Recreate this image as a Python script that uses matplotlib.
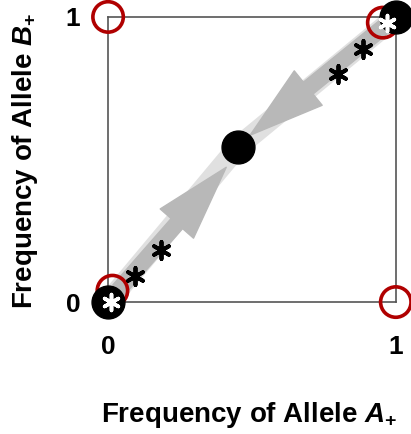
import matplotlib.pyplot as plt
from matplotlib.patches import FancyArrowPatch

plt.rcParams['font.family'] = ['Liberation Sans', 'DejaVu Sans']
plt.rcParams['font.weight'] = 'bold'
plt.rcParams['mathtext.fontset'] = 'custom'
plt.rcParams['mathtext.it'] = 'Liberation Sans:italic:bold'
plt.rcParams['mathtext.rm'] = 'Liberation Sans:bold'
plt.rcParams['mathtext.bf'] = 'Liberation Sans:bold'

# corner states (unstable, red open circles)
red_x = [0.015, 0.0, 0.955, 1.0]
red_y = [0.04, 1.0, 0.98, 0.0]
# stable states (black dots)
stable_x = [0.0, 0.451, 1.0]
stable_y = [0.0, 0.544, 1.0]
# trajectory path through the interior point
path_x = [0.0, 0.451, 1.0]
path_y = [0.0, 0.544, 1.0]
# simulation points (asterisks)
star_x = [0.094, 0.184, 0.80, 0.885]
star_y = [0.091, 0.182, 0.80, 0.888]
white_star_x = [0.01, 0.97]
white_star_y = [0.0, 0.98]

fig = plt.figure(figsize=(4.11, 4.34), dpi=100)
ax = fig.add_axes([0.263, 0.304, 0.7, 0.657])
ax.set_xlim(0, 1)
ax.set_ylim(0, 1)
for s in ax.spines.values():
    s.set_color('#555555')
    s.set_linewidth(1.2)

# light grey band
ax.plot(path_x, path_y, color='#e0e0e0', lw=15, solid_capstyle='round', zorder=1)

# arrows toward the interior point
style = 'simple,head_length=4.9,head_width=2.9,tail_width=1.0'
a1 = FancyArrowPatch((0.03, 0.035), (0.417, 0.48), arrowstyle=style,
                     mutation_scale=11, color='#b8b8b8', zorder=2)
a2 = FancyArrowPatch((0.97, 0.975), (0.486, 0.579), arrowstyle=style,
                     mutation_scale=11, color='#b8b8b8', zorder=2)
ax.add_patch(a1)
ax.add_patch(a2)

ax.scatter(red_x, red_y, s=480, facecolors='none', edgecolors='#b00000', linewidths=2.6, zorder=3, clip_on=False)
ax.scatter(stable_x, stable_y, s=560, color='black', zorder=4, clip_on=False)
ax.scatter(star_x, star_y, marker=(6, 2, 0), s=150, color='black', linewidths=2.8, zorder=5, clip_on=False)
ax.scatter(white_star_x, white_star_y, marker=(6, 2, 0), s=130, color='white', linewidths=2.6, zorder=5, clip_on=False)

ax.set_xticks([0, 1])
ax.set_yticks([0, 1])
ax.set_xticklabels(['0', '1'], fontsize=19, fontweight='bold')
ax.set_yticklabels(['0', '1'], fontsize=19, fontweight='bold')
ax.tick_params(length=0, pad=20)
ax.tick_params(axis='x', pad=24)

ax.set_xlabel(r'Frequency of Allele $\mathit{A}_{+}$', fontsize=20, fontweight='bold')
ax.set_ylabel(r'Frequency of Allele $\mathit{B}_{+}$', fontsize=20, fontweight='bold')
ax.xaxis.set_label_coords(0.49, -0.345)
ax.yaxis.set_label_coords(-0.237, 0.495)

plt.savefig('out.png', dpi=100)
